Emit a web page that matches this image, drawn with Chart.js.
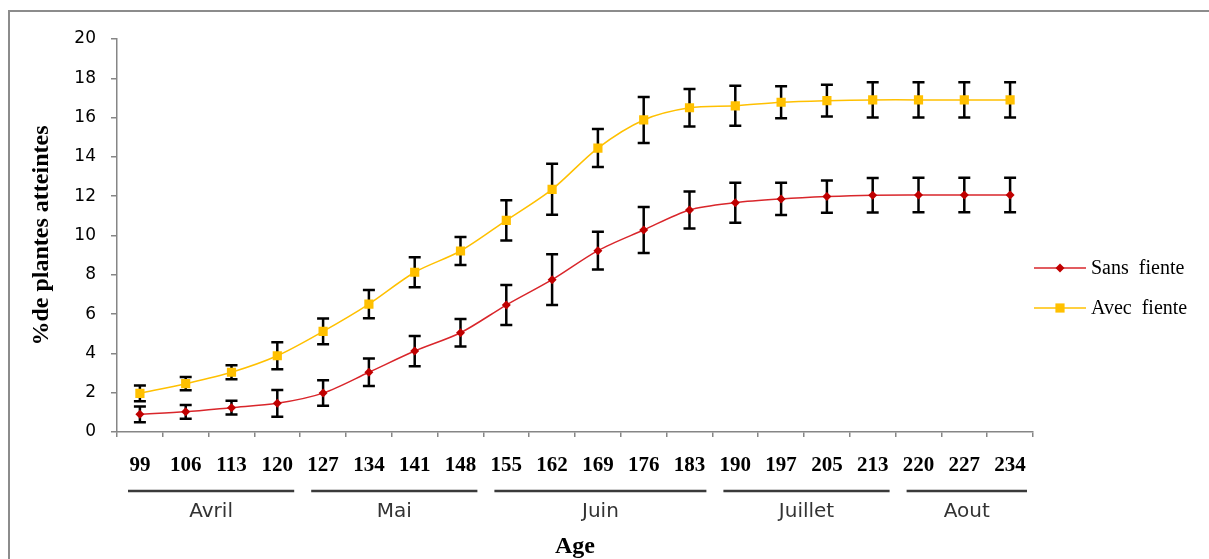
<!DOCTYPE html>
<html>
<head>
<meta charset="utf-8">
<script src="https://cdn.jsdelivr.net/npm/chart.js@4.4.1/dist/chart.umd.min.js"></script>
<style>
  body { margin: 0; background: #fff; }
</style>
</head>
<body>
<canvas id="myChart" width="1209" height="559"></canvas>
<script>
const ctx = document.getElementById('myChart').getContext('2d');

// ages (jours) sur l'axe X
const ages = ['99', '106', '113', '120', '127', '134', '141', '148', '155', '162',
              '169', '176', '183', '190', '197', '205', '213', '220', '227', '234'];

// % de plantes atteintes
const sansFiente = [0.9, 1.03, 1.24, 1.46, 1.98, 3.04, 4.12, 5.05, 6.46, 7.75,
                    9.23, 10.28, 11.3, 11.67, 11.86, 11.98, 12.05, 12.06, 12.06, 12.06];
const sansErreur = [0.4, 0.35, 0.35, 0.68, 0.65, 0.7, 0.77, 0.7, 1.02, 1.29,
                    0.96, 1.17, 0.94, 1.02, 0.82, 0.82, 0.88, 0.88, 0.88, 0.88];

const avecFiente = [1.97, 2.46, 3.04, 3.88, 5.12, 6.51, 8.13, 9.21, 10.77, 12.35,
                    14.45, 15.88, 16.5, 16.6, 16.78, 16.86, 16.9, 16.9, 16.9, 16.9];
const avecErreur = [0.4, 0.34, 0.36, 0.69, 0.65, 0.72, 0.76, 0.71, 1.02, 1.3,
                    0.97, 1.17, 0.95, 1.02, 0.81, 0.81, 0.9, 0.9, 0.9, 0.9];

// mois sous l'axe
const mois = ['Avril', 'Mai', 'Juin', 'Juillet', 'Aout'];
const moisDebut = ['99', '127', '155', '190', '220'];
const moisFin = ['120', '148', '183', '213', '234'];

const yTicks = [0, 2, 4, 6, 8, 10, 12, 14, 16, 18, 20];

const errorBars = [sansErreur, avecErreur];

// barres d'erreur (noires) dessinees avant les points
const errorBarPlugin = {
    id: 'errorBars',
    beforeDatasetsDraw(chart) {
        const c = chart.ctx;
        const x = chart.scales.x;
        const y = chart.scales.y;
        c.save();
        c.strokeStyle = '#000';
        c.lineWidth = 2.5;
        chart.data.datasets.forEach((ds, i) => {
            ds.data.forEach((v, j) => {
                const e = errorBars[i][j];
                const px = x.getPixelForValue(j);
                const top = y.getPixelForValue(v + e);
                const bot = y.getPixelForValue(v - e);
                c.beginPath();
                c.moveTo(px, top); c.lineTo(px, bot);
                c.moveTo(px - 6, top); c.lineTo(px + 6, top);
                c.moveTo(px - 6, bot); c.lineTo(px + 6, bot);
                c.stroke();
            });
        });
        c.restore();
    }
};

// cadre, mois et legende
const extrasPlugin = {
    id: 'extras',
    beforeDraw(chart) {
        const c = chart.ctx;
        c.save();
        c.strokeStyle = '#8c8c8c';
        c.lineWidth = 2;
        c.beginPath();
        c.moveTo(9, 600); c.lineTo(9, 11); c.lineTo(1209, 11);
        c.stroke();
        c.restore();
    },
    afterDraw(chart) {
        const c = chart.ctx;
        const x = chart.scales.x;
        const half = (x.getPixelForValue(1) - x.getPixelForValue(0)) / 2;
        c.save();
        mois.forEach((m, i) => {
            const a = x.getPixelForValue(ages.indexOf(moisDebut[i])) - half + 11;
            const b = x.getPixelForValue(ages.indexOf(moisFin[i])) + half - 6;
            c.strokeStyle = '#3a3a3a';
            c.lineWidth = 2.5;
            c.beginPath();
            c.moveTo(a, 491); c.lineTo(b, 491);
            c.stroke();
            c.fillStyle = '#333';
            c.font = '20px "DejaVu Sans"';
            c.textAlign = 'center';
            c.textBaseline = 'middle';
            c.fillText(m, (a + b) / 2, 512);
        });

        // legende
        const rows = [268, 308];
        chart.data.datasets.forEach((ds, i) => {
            const ly = rows[i];
            c.strokeStyle = ds.borderColor;
            c.lineWidth = 1.5;
            c.beginPath();
            c.moveTo(1034, ly); c.lineTo(1086, ly);
            c.stroke();
            c.fillStyle = ds.pointBackgroundColor;
            Chart.helpers.drawPoint(c, {
                pointStyle: ds.pointStyle, radius: ds.pointRadius, borderWidth: 0, rotation: 0
            }, 1060, ly);
            c.fillStyle = '#000';
            c.font = '20px "Liberation Serif"';
            c.textAlign = 'left';
            c.textBaseline = 'middle';
            c.fillText(ds.label, 1091, ly + 1);
        });
        c.restore();
    }
};

const myChart = new Chart(ctx, {
    type: 'line',
    data: {
        labels: ages,
        datasets: [{
            label: 'Sans  fiente',
            data: sansFiente,
            borderColor: '#d9262b',
            borderWidth: 1.5,
            pointStyle: 'rectRot',
            pointRadius: 4.5,
            pointBackgroundColor: '#c00000',
            pointBorderWidth: 0,
            tension: 0.3
        }, {
            label: 'Avec  fiente',
            data: avecFiente,
            borderColor: '#ffc000',
            borderWidth: 1.5,
            pointStyle: 'rect',
            pointRadius: 6.5,
            pointBackgroundColor: '#ffc000',
            pointBorderWidth: 0,
            tension: 0.3
        }]
    },
    options: {
        responsive: false,
        animation: false,
        layout: { padding: { top: 39, left: 0, right: 176, bottom: 0 } },
        plugins: {
            legend: { display: false },
            tooltip: { enabled: false }
        },
        scales: {
            x: {
                offset: true,
                grid: { offset: true, drawOnChartArea: false, color: '#868686', tickLength: 5, lineWidth: 1.5 },
                border: { color: '#868686', width: 1.5 },
                ticks: {
                    color: '#000',
                    padding: 16,
                    maxRotation: 0,
                    autoSkip: false,
                    font: { family: 'Liberation Serif', weight: 'bold', size: 21 }
                },
                title: {
                    display: true,
                    text: 'Age',
                    color: '#000',
                    padding: 0,
                    font: { family: 'Liberation Serif', weight: 'bold', size: 24, lineHeight: 1 }
                },
                afterFit(scale) { scale.height = 127; }
            },
            y: {
                min: 0,
                max: 20,
                afterBuildTicks(scale) { scale.ticks = yTicks.map(v => ({ value: v })); },
                grid: { drawOnChartArea: false, color: '#868686', tickLength: 6, lineWidth: 1.5 },
                border: { color: '#868686', width: 1.5 },
                ticks: {
                    color: '#000',
                    padding: 15,
                    font: { family: 'DejaVu Sans', size: 17 }
                },
                title: {
                    display: true,
                    text: '%de plantes atteintes',
                    color: '#000',
                    padding: { top: 30, bottom: 0 },
                    font: { family: 'Liberation Serif', weight: 'bold', size: 24, lineHeight: 1 }
                },
                afterFit(scale) { scale.width = 117; }
            }
        }
    },
    plugins: [errorBarPlugin, extrasPlugin]
});
</script>
</body>
</html>
